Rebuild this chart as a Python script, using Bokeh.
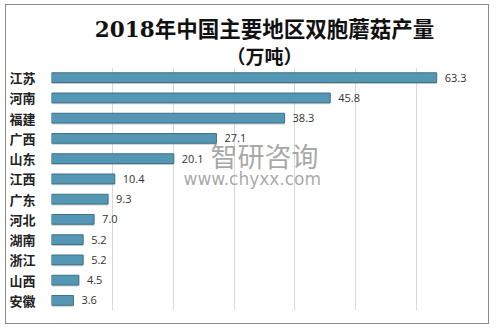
from bokeh.plotting import figure
from bokeh.models import Label, ColumnDataSource, FactorRange, Title
from bokeh.embed import file_html
from bokeh.resources import INLINE
from bokeh.transform import dodge

regions = ["江苏", "河南", "福建", "广西", "山东", "江西", "广东", "河北", "湖南", "浙江", "山西", "安徽"]
output = [63.3, 45.8, 38.3, 27.1, 20.1, 10.4, 9.3, 7.0, 5.2, 5.2, 4.5, 3.6]
labels = ["%.1f" % v for v in output]
title_line1 = "2018年中国主要地区双胞蘑菇产量"
title_line2 = "（万吨）"

src = ColumnDataSource(dict(cat=regions, val=output, lab=labels))

p = figure(width=484, height=320, output_backend="svg", toolbar_location=None,
           y_range=FactorRange(*reversed(regions)), x_range=(0, 70),
           min_border_left=42, min_border_right=13, min_border_top=62, min_border_bottom=15,
           title=title_line1)
p.margin = (4, 0, 0, 5)
p.styles = {"border": "1px solid #8a8a8a"}
p.background_fill_color = "white"
p.border_fill_color = "white"
p.outline_line_color = None

p.title.align = "center"
p.title.text_font = "DejaVu Serif, Noto Sans CJK SC"
p.title.text_font_size = "21.5px"
p.title.text_font_style = "bold"
p.title.text_color = "#111111"
p.title.standoff = -1
p.title.offset = 0

t2 = Title(text=title_line2, align="center", text_font="Noto Sans CJK SC",
           text_font_size="19px", text_font_style="bold", text_color="#111111",
           standoff=-3)
p.add_layout(t2, "above")

p.xaxis.visible = False
p.yaxis.axis_line_color = None
p.yaxis.major_tick_line_color = None
p.yaxis.minor_tick_line_color = None
p.yaxis.major_label_standoff = 10
p.yaxis.major_label_text_font = "Noto Sans CJK SC"
p.yaxis.major_label_text_font_style = "bold"
p.yaxis.major_label_text_font_size = "13px"
p.yaxis.major_label_text_color = "#222222"

p.xgrid.grid_line_color = "#d9d9d9"
p.xgrid.ticker = list(range(0, 71, 10))
p.ygrid.grid_line_color = None

# shadow
p.hbar(y=dodge("cat", -0.07, range=p.y_range), right="val", left=0, height=0.48, source=src,
       fill_color="#7f8a90", fill_alpha=0.45, line_color=None)
p.hbar(y="cat", right="val", left=0, height=0.48, source=src,
       fill_color="#5497b5", line_color="#3f7186", line_width=1)

p.text(x="val", y="cat", text="lab", source=src, x_offset=8, text_baseline="middle",
       text_font_size="11px", text_color="#333333", text_font={"value": "Open Sans"})

# watermark
p.add_layout(Label(x=159, y=155, x_units="screen", y_units="screen", text="智研咨询",
                   text_baseline="middle", text_font_size="27px",
                   text_font="Noto Sans CJK SC", text_color="#999999", text_alpha=0.85))
p.add_layout(Label(x=132, y=132, x_units="screen", y_units="screen", text="www.chyxx.com",
                   text_baseline="middle", text_font_size="17px",
                   text_font="DejaVu Sans", text_color="#999999", text_alpha=0.85))

open("out.html", "w").write(file_html(p, INLINE))
